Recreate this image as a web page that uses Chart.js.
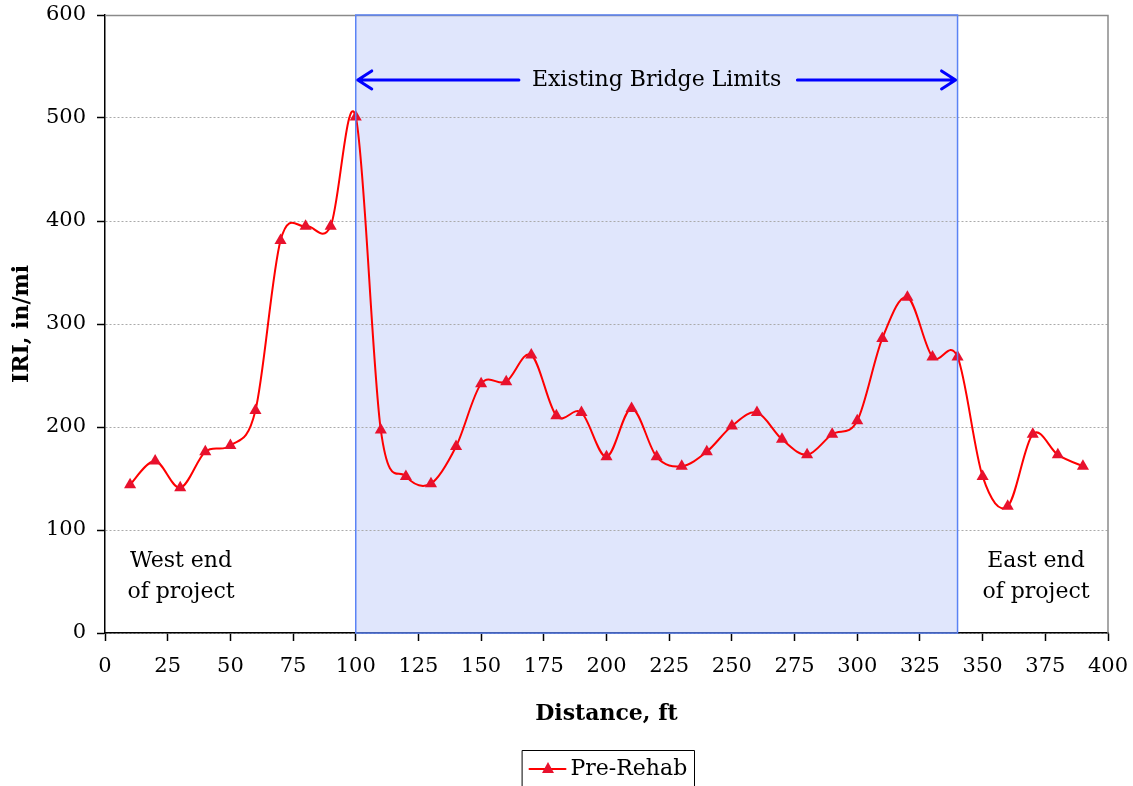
<!DOCTYPE html>
<html><head><meta charset="utf-8">
<script src="https://cdn.jsdelivr.net/npm/chart.js@4/dist/chart.umd.min.js"></script>
<style>html,body{margin:0;padding:0;background:#fff}#wrap{width:1133px;height:786px}</style>
</head><body><div id="wrap"><canvas id="c" width="1133" height="786"></canvas></div>
<script>
const distances = [10,20,30,40,50,60,70,80,90,100,110,120,130,140,150,160,170,180,190,200,210,220,230,240,250,260,270,280,290,300,310,320,330,340,350,360,370,380,390];
const iri = [144,167,141,176,182,216,381,395,395,501,197,152,145,181,242,244,270,211,214,171,218,171,162,176,201,214,188,173,193,206,286,326,268,268,152,123,193,173,162];
const xTicks = [0,25,50,75,100,125,150,175,200,225,250,275,300,325,350,375,400];
const yTicks = [0,100,200,300,400,500,600];
const seriesLabel = 'Pre-Rehab';
const bridgeStart = 100, bridgeEnd = 340;
const bridgeLabel = 'Existing Bridge Limits';
const westLabel = ['West end','of project'];
const eastLabel = ['East end','of project'];
const FONT = "'DejaVu Serif', serif";

// Excel-style smoothing (uniform Catmull-Rom control points)
const excelSmooth = {
  id:'excelSmooth',
  beforeDatasetDraw(chart, args){
    const meta = args.meta;
    const pts = meta.data, n = pts.length;
    for (let i=0;i<n;i++){
      const p = pts[i], pr = pts[Math.max(i-1,0)], nx = pts[Math.min(i+1,n-1)];
      const dx = (nx.x - pr.x)/6, dy = (nx.y - pr.y)/6;
      p.cp1x = p.x - dx; p.cp1y = p.y - dy; p.cp2x = p.x + dx; p.cp2y = p.y + dy;
    }
    if (meta.dataset){ meta.dataset._pointsUpdated = true; meta.dataset._path = undefined; }
  }
};

const overlay = {
  id:'overlay',
  beforeDraw(chart){
    const {ctx, scales:{x,y}} = chart;
    const x0 = x.getPixelForValue(bridgeStart), x1 = x.getPixelForValue(bridgeEnd);
    const yt = y.getPixelForValue(600), yb = y.getPixelForValue(0);
    ctx.save();
    ctx.fillStyle = '#e0e6fc';
    ctx.fillRect(x0, yt, x1-x0, yb-yt);
    ctx.restore();
  },
  afterDraw(chart){
    const {ctx, scales:{x,y}, chartArea:ca} = chart;
    const x0 = x.getPixelForValue(bridgeStart), x1 = x.getPixelForValue(bridgeEnd);
    const yt = y.getPixelForValue(600), yb = y.getPixelForValue(0);
    ctx.save();
    ctx.strokeStyle = '#8a8a8a'; ctx.lineWidth = 1.5;
    ctx.beginPath(); ctx.moveTo(ca.left, ca.top+0.5); ctx.lineTo(ca.right, ca.top+0.5); ctx.lineTo(ca.right, ca.bottom); ctx.stroke();
    ctx.strokeStyle = '#5b83f5'; ctx.lineWidth = 1.5;
    ctx.strokeRect(x0, yt, x1-x0, yb-yt);
    const ay = y.getPixelForValue(537);
    ctx.font = "22px " + FONT;
    ctx.fillStyle = '#000'; ctx.textAlign='center'; ctx.textBaseline='middle';
    const cx = (x0+x1)/2;
    ctx.fillText(bridgeLabel, cx, ay);
    const tw = ctx.measureText(bridgeLabel).width;
    ctx.strokeStyle = '#0000ff'; ctx.lineWidth = 3; ctx.lineCap='round'; ctx.lineJoin='round';
    ctx.beginPath();
    ctx.moveTo(x0+2, ay); ctx.lineTo(cx - tw/2 - 13, ay);
    ctx.moveTo(cx + tw/2 + 16, ay); ctx.lineTo(x1-2, ay);
    ctx.moveTo(x0+16, ay-9); ctx.lineTo(x0+2, ay); ctx.lineTo(x0+16, ay+9);
    ctx.moveTo(x1-16, ay-9); ctx.lineTo(x1-2, ay); ctx.lineTo(x1-16, ay+9);
    ctx.stroke();
    ctx.fillStyle='#000'; ctx.textAlign='center';
    ctx.fillText(westLabel[0], 181, 561); ctx.fillText(westLabel[1], 181, 592);
    ctx.fillText(eastLabel[0], 1036, 561); ctx.fillText(eastLabel[1], 1036, 592);
    // legend
    const lx = 522.5, ly = 750.5, lw = 172, lh = 45;
    ctx.strokeStyle='#000'; ctx.lineWidth=1;
    ctx.strokeRect(lx, ly, lw, lh);
    const my = 769;
    ctx.strokeStyle='#ff0000'; ctx.lineWidth=2;
    ctx.beginPath(); ctx.moveTo(lx+7, my); ctx.lineTo(lx+43, my); ctx.stroke();
    ctx.fillStyle='#e8112d';
    ctx.beginPath(); ctx.moveTo(lx+25.5, my-7); ctx.lineTo(lx+31.5, my+4); ctx.lineTo(lx+19.5, my+4); ctx.closePath(); ctx.fill();
    ctx.fillStyle='#000'; ctx.textAlign='left';
    ctx.fillText(seriesLabel, lx+48, my);
    ctx.restore();
  }
};

function zeroPad(s){ s.paddingLeft = 0; s.paddingRight = 0; s.paddingTop = 0; s.paddingBottom = 0; }

new Chart(document.getElementById('c'), {
  type:'line',
  data:{ datasets:[{
    label: seriesLabel,
    data: distances.map((d,i)=>({x:d, y:iri[i]})),
    borderColor:'#ff0000', borderWidth:2,
    backgroundColor:'#e8112d',
    pointStyle:'triangle', pointRadius:7, pointBorderWidth:0,
    pointBackgroundColor:'#e8112d',
    tension:0.4, fill:false
  }]},
  options:{
    responsive:false, animation:false,
    layout:{ padding:{ top:15, right:25, left:0, bottom:59 } },
    plugins:{ legend:{display:false}, tooltip:{enabled:false} },
    scales:{
      x:{ type:'linear', min:0, max:400,
        afterBuildTicks(s){ s.ticks = xTicks.map(v=>({value:v})); },
        afterFit(s){ s.height = 94; zeroPad(s); },
        grid:{ drawOnChartArea:false, drawTicks:true, tickLength:8, tickColor:'#000', tickWidth:1.5 },
        border:{ color:'#000', width:1.5 },
        ticks:{ color:'#000', font:{family:FONT, size:21}, padding:13, maxRotation:0, autoSkip:false },
        title:{ display:true, text:'Distance, ft', color:'#000', font:{family:FONT, size:22, weight:'bold'}, padding:{top:0,bottom:0} }
      },
      y:{ min:0, max:600,
        afterBuildTicks(s){ s.ticks = yTicks.map(v=>({value:v})); },
        afterFit(s){ s.width = 105; zeroPad(s); },
        grid:{ color:'#aaa', lineWidth:1, drawTicks:true, tickLength:8, tickColor:'#000', tickWidth:1.5 },
        border:{ color:'#000', width:1.5, dash:[2,2] },
        ticks:{ color:'#000', font:{family:FONT, size:21}, padding:11 },
        title:{ display:true, text:'IRI, in/mi', color:'#000', font:{family:FONT, size:22, weight:'bold'}, padding:{top:9,bottom:0} }
      }
    }
  },
  plugins:[overlay, excelSmooth]
});
</script></body></html>
